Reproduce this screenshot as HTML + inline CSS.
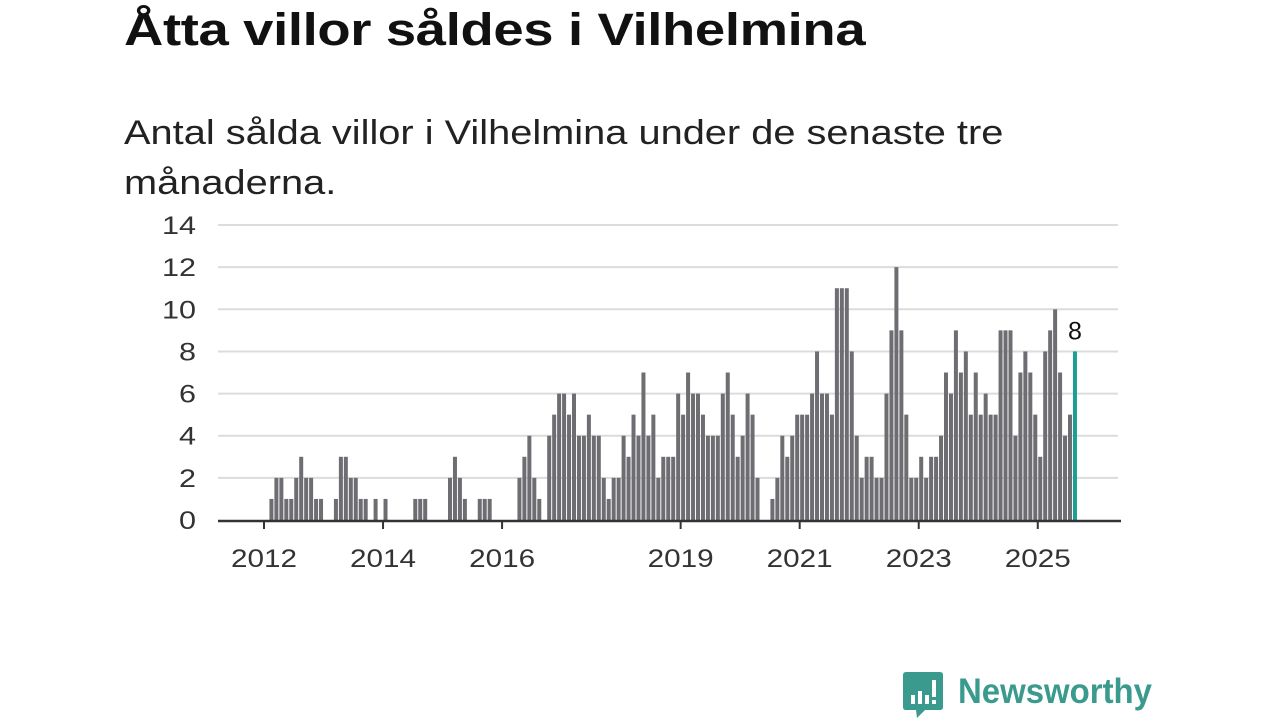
<!DOCTYPE html>
<html><head><meta charset="utf-8">
<style>
body{margin:0;width:1280px;height:720px;background:#fff;overflow:hidden;font-family:"Liberation Sans",sans-serif;}
#title{position:absolute;left:124px;top:4px;font-size:45px;font-weight:bold;color:#111;margin:0;letter-spacing:-0.3px;transform:scaleX(1.21);transform-origin:0 0;white-space:nowrap}
#subtitle{position:absolute;left:124px;top:108px;font-size:34px;line-height:50px;color:#222;width:1000px;transform:scaleX(1.17);transform-origin:0 0;white-space:nowrap}
svg{position:absolute;left:0;top:0}
</style></head><body>
<h1 id="title">Åtta villor såldes i Vilhelmina</h1>
<div id="subtitle">Antal sålda villor i Vilhelmina under de senaste tre<br>månaderna.</div>
<svg id="chart" width="1280" height="720"></svg>
<div style="position:absolute;left:903px;top:671px;">
<svg width="260" height="50" style="position:static">
<path d="M3 1 H37 Q40 1 40 4 V36 Q40 39 37 39 H22 L14 47 L13 39 H3 Q0 39 0 36 V4 Q0 1 3 1 Z" fill="#3a9a8e"/>
<rect x="8" y="24" width="4" height="9" fill="#fff"/><rect x="15" y="20" width="4" height="13" fill="#fff"/><rect x="22" y="24" width="4" height="9" fill="#fff"/><rect x="29" y="9" width="4" height="17" fill="#fff"/><rect x="29" y="29" width="4" height="4" fill="#fff"/>
<text x="55" y="32" font-family="Liberation Sans, sans-serif" font-size="35" font-weight="bold" fill="#3a9a8e" textLength="194" lengthAdjust="spacingAndGlyphs">Newsworthy</text>
</svg></div>
<script>
const months = [0,1,2,2,1,1,2,3,2,2,1,1,0,0,1,3,3,2,2,1,1,0,1,0,1,0,0,0,0,0,1,1,1,0,0,0,0,2,3,2,1,0,0,1,1,1,0,0,0,0,0,2,3,4,2,1,0,4,5,6,6,5,6,4,4,5,4,4,2,1,2,2,4,3,5,4,7,4,5,2,3,3,3,6,5,7,6,6,5,4,4,4,6,7,5,3,4,6,5,2,0,0,1,2,4,3,4,5,5,5,6,8,6,6,5,11,11,11,8,4,2,3,3,2,2,6,9,12,9,5,2,2,3,2,3,3,4,7,6,9,7,8,5,7,5,6,5,5,9,9,9,4,7,8,7,5,3,8,9,10,7,4,5,8];
const yTicks = [0,2,4,6,8,10,12,14];
const xTickYears = [2012,2014,2016,2019,2021,2023,2025];
const startYear = 2012;
const svg = document.getElementById('chart');
const NS='http://www.w3.org/2000/svg';
const X0=264, MW=4.96, Y0=520, YU=21.07;
const xm = m => X0 + (m+0.5)*MW;
const xy = yr => X0 + (yr-startYear)*12*MW;
const y = v => Y0 - v*YU;
function mk(tag, attrs){const e=document.createElementNS(NS,tag);for(const k in attrs)e.setAttribute(k,attrs[k]);svg.appendChild(e);return e;}
yTicks.forEach(t=>{
  if(t>0){const g=mk('line',{x1:218,x2:1118,y1:y(t),y2:y(t),stroke:'#dcdcdc','stroke-width':2});
  
  }
  const l=mk('text',{x:196,y:y(t)+9,'text-anchor':'end','font-size':25,fill:'#333','font-family':'Liberation Sans, sans-serif',textLength:String(t).length*17,lengthAdjust:'spacingAndGlyphs'});
  l.textContent=t;
  
  
});
const last = months.length-1;
months.forEach((v,i)=>{
  if(v<=0) return;
  const r=mk('rect',{x:xm(i)-2,y:y(v),width:4,height:Y0-y(v),fill:i===last?'#1a9e96':'#6e6d72'});
  
  
});
const ax=mk('line',{x1:218,x2:1121,y1:Y0+1,y2:Y0+1,stroke:'#333','stroke-width':2.5});


xTickYears.forEach(yr=>{
  const t=mk('line',{x1:xy(yr),x2:xy(yr),y1:Y0,y2:Y0+9,stroke:'#333','stroke-width':2});
  
  
  const l=mk('text',{x:xy(yr),y:567,'text-anchor':'middle','font-size':25,fill:'#333','font-family':'Liberation Sans, sans-serif',textLength:66,lengthAdjust:'spacingAndGlyphs'});
  l.textContent=yr;
  
  
});
const vl=mk('text',{x:xm(last),y:y(months[last])-12,'text-anchor':'middle','font-size':25,fill:'#111','font-family':'Liberation Sans, sans-serif'});
vl.textContent=months[last];


</script>
</body></html>
